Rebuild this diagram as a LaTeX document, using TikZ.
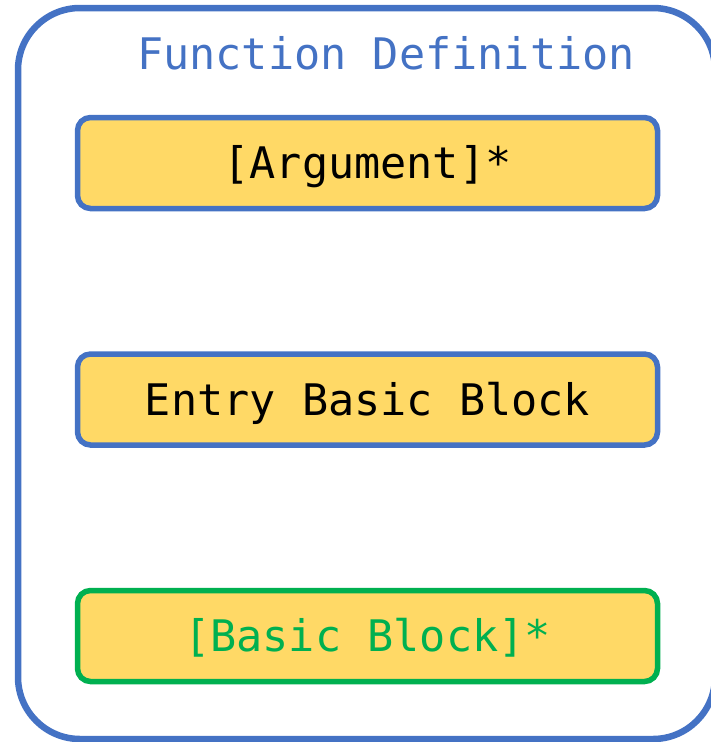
\documentclass[tikz,border=0pt]{standalone}
\usepackage{fontspec}
\setmonofont{DejaVu Sans Mono}
\usetikzlibrary{positioning}
\definecolor{fdblue}{HTML}{4472C4}
\definecolor{bbyellow}{HTML}{FFD966}
\definecolor{bbgreen}{HTML}{00B050}

\begin{document}
\begin{tikzpicture}[
    x=1pt, y=1pt,
    node distance=145.5pt,
    every node/.style={font=\ttfamily\fontsize{43.5}{50}\selectfont, outer sep=0pt},
    frame/.style={rectangle, rounded corners=62pt, draw=fdblue,
        line width=6.5pt, minimum width=697pt, minimum height=731pt},
    blok/.style={rectangle, rounded corners=13pt, fill=bbyellow,
        draw=fdblue, line width=5.5pt, minimum width=580pt,
        minimum height=91pt, text height=31.7pt, text depth=0pt}
    ]
\useasboundingbox (0,0) rectangle (710,-742);

%Outer frame
\node[frame] (funcdef) at (366.5,-373.5) {};
\node[text=fdblue, anchor=base] (title) at (386,-69) {Function Definition};

%Blocks inside
\node[blok] (args) at (367.5,-163) {[Argument]*};
\node[blok, below=of args] (entry) {Entry Basic Block};
\node[blok, below=of entry, draw=bbgreen, text=bbgreen] (blocks) {[Basic Block]*};
\end{tikzpicture}
\end{document}
